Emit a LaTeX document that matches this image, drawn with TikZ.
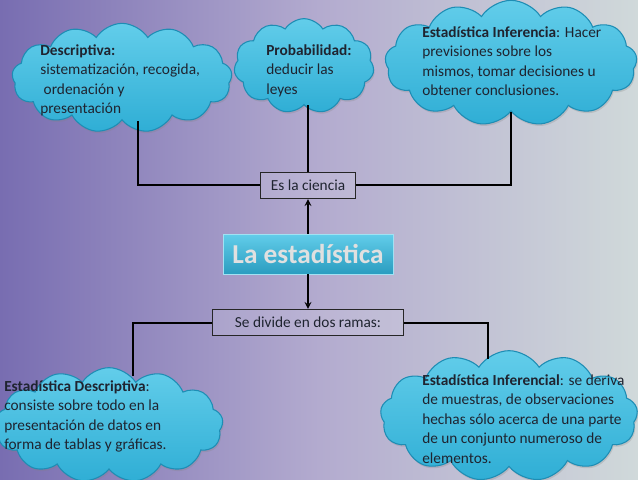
\documentclass[tikz,border=0pt]{standalone}
\usepackage{fontspec}
\setmainfont{Carlito}
\usetikzlibrary{shapes}
\usetikzlibrary{positioning}
\usetikzlibrary{shadows}

\definecolor{fondoA}{HTML}{786DB1}
\definecolor{fondoB}{HTML}{B3ABCF}
\definecolor{fondoC}{HTML}{D0D9DA}
\definecolor{nubeA}{HTML}{62CDEA}
\definecolor{nubeC}{HTML}{2FAED5}
\definecolor{nubeB}{HTML}{1E8DB4}
\definecolor{tinta}{HTML}{1F2430}

\begin{document}
\begin{tikzpicture}[x=0.75pt, y=-0.75pt,
    nube/.style={cloud, cloud puffs=13, cloud puff arc=115, cloud ignores aspect,
        draw=nubeB, line width=0.8pt, top color=nubeA, bottom color=nubeC,
        drop shadow={opacity=0.25, shadow xshift=0.8pt, shadow yshift=-1.5pt}},
    texto/.style={anchor=north west, inner sep=0pt, align=left, text=tinta,
        font=\fontsize{11.5}{14.7}\selectfont},
    caja/.style={draw=black!85, line width=1.1pt, fill=white, fill opacity=0.12,
        text opacity=1, text=tinta, minimum height=19.5pt, inner sep=0pt,
        font=\fontsize{11.5}{14}\selectfont},
    linea/.style={line width=1.3pt}]

    \useasboundingbox (0,0) rectangle (638,479);
    \fill[left color=fondoA, right color=fondoC, middle color=fondoB] (0,0) rectangle (638,479);

    % centre
    \node(E)[draw=nubeA!60!white, top color=nubeA, bottom color=nubeC!90!black,
        minimum width=127.5pt, minimum height=30pt, inner sep=0pt,
        font=\bfseries\fontsize{20.5}{22}\selectfont, text=white!88!black] at (308,254) {La estadística};
    \node(C)[caja, minimum width=71pt, above=26pt of E]{Es la ciencia};
    \node(S)[caja, minimum width=143pt, below=26pt of E]{Se divide en dos ramas:};

    \draw[linea, ->, >=stealth] (E) -- (C);
    \draw[linea, ->, >=stealth] (E) -- (S);

    % clouds
    \node(N1)[nube, minimum width=165pt, minimum height=82pt] at (122,78) {};
    \node(N2)[nube, minimum width=105pt, minimum height=71pt, cloud puffs=11] at (304,66) {};
    \node(N3)[nube, minimum width=189pt, minimum height=94pt] at (511,63) {};
    \node(N4)[nube, minimum width=171pt, minimum height=86pt] at (109,425) {};
    \node(N5)[nube, minimum width=193pt, minimum height=98pt] at (509,416) {};

    \node(T1)[texto] at (40,44) {\textbf{Descriptiva:}\\sistematización, recogida,\\\ ordenación y\\presentación};
    \node(T2)[texto] at (266,44) {\textbf{Probabilidad:}\\deducir las\\leyes};
    \node(T3)[texto] at (422,26) {\textbf{Estadística Inferencia}: Hacer\\previsiones sobre los\\mismos, tomar decisiones u\\obtener conclusiones.};
    \node(T4)[texto] at (4,380) {\textbf{Estadística Descriptiva}:\\consiste sobre todo en la\\presentación de datos en\\forma de tablas y gráficas.};
    \node(T5)[texto] at (422,374) {\textbf{Estadística Inferencial}: se deriva\\de muestras, de observaciones\\hechas sólo acerca de una parte\\de un conjunto numeroso de\\elementos.};

    \draw[linea] (C.west) -| ([xshift=12pt]N1.south);
    \draw[linea] (C.north) -- (C.north |- N2.south);
    \draw[linea] (C.east) -| (N3.south);
    \draw[linea] (S.west) -| ([xshift=18pt, yshift=-7pt]N4.north);
    \draw[linea] (S.east) -| ([xshift=-16pt, yshift=-7pt]N5.north);

\end{tikzpicture}
\end{document}
